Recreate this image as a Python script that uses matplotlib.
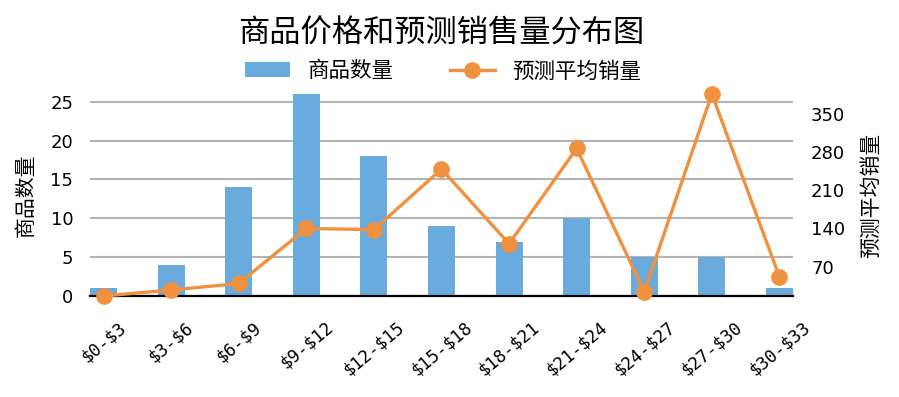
import matplotlib
matplotlib.use("Agg")
import matplotlib.pyplot as plt
import numpy as np

plt.rcParams['font.family'] = ['DejaVu Sans', 'Noto Sans CJK SC']

categories = ["$0-$3", "$3-$6", "$6-$9", "$9-$12", "$12-$15", "$15-$18",
              "$18-$21", "$21-$24", "$24-$27", "$27-$30", "$30-$33"]
counts = [1, 4, 14, 26, 18, 9, 7, 10, 5, 5, 1]
avg_sales = [16, 27, 39, 140, 138, 249, 112, 287, 24, 387, 51]
left_ticks = [0, 5, 10, 15, 20, 25]
right_ticks = [70, 140, 210, 280, 350]

bar_color = '#6aabdd'
line_color = '#f0913f'
cjk = ['Noto Sans CJK SC', 'DejaVu Sans']

fig = plt.figure(figsize=(8.99, 3.97), dpi=100)
ax = fig.add_axes([0.1001, 0.2544, 0.782, 0.5088])
x = np.arange(len(categories))
bars = ax.bar(x, counts, width=0.4, color=bar_color, label='商品数量', zorder=2)
ax.set_xlim(-0.2, len(categories) - 0.8)
ax.set_ylim(0, max(counts))
ax.set_yticks(left_ticks)
ax.yaxis.grid(True, color='#b4b4b4', linewidth=1.5, zorder=0)
ax.set_axisbelow(True)
for s in ['top', 'left', 'right']:
    ax.spines[s].set_visible(False)
ax.spines['bottom'].set_linewidth(1.6)
ax.spines['bottom'].set_color('black')
ax.spines['bottom'].set_zorder(5)
ax.tick_params(axis='y', length=0, pad=12, labelsize=13)
ax.tick_params(axis='x', length=0, pad=16)
ax.set_xticks(x)
ax.set_xticklabels([c.replace('$', r'\$') for c in categories], rotation=40,
                   ha='center', fontsize=12.5, family='DejaVu Sans Mono')
ax.set_ylabel('商品数量', fontsize=15, family=cjk, labelpad=10)

ax2 = ax.twinx()
line, = ax2.plot(x, avg_sales, color=line_color, linewidth=2.4, marker='o',
                 markersize=11, label='预测平均销量', zorder=3, clip_on=False)
ax2.set_ylim(min(avg_sales), max(avg_sales))
ax2.set_yticks(right_ticks)
for s in ['top', 'left', 'right', 'bottom']:
    ax2.spines[s].set_visible(False)
ax2.tick_params(axis='y', length=0, pad=13, labelsize=13)
ax2.set_ylabel('预测平均销量', fontsize=15, family=cjk, labelpad=11)

fig.suptitle('商品价格和预测销售量分布图', fontsize=22.5, family=cjk,
             x=0.491, y=0.955)
leg = fig.legend([bars, line], ['商品数量', '预测平均销量'], loc='center',
                 bbox_to_anchor=(0.493, 0.82), ncol=2, frameon=False,
                 prop={'family': cjk, 'size': 15.5}, handlelength=2.1,
                 columnspacing=2.6, handletextpad=0.8)

fig.savefig('out.png', dpi=100)
